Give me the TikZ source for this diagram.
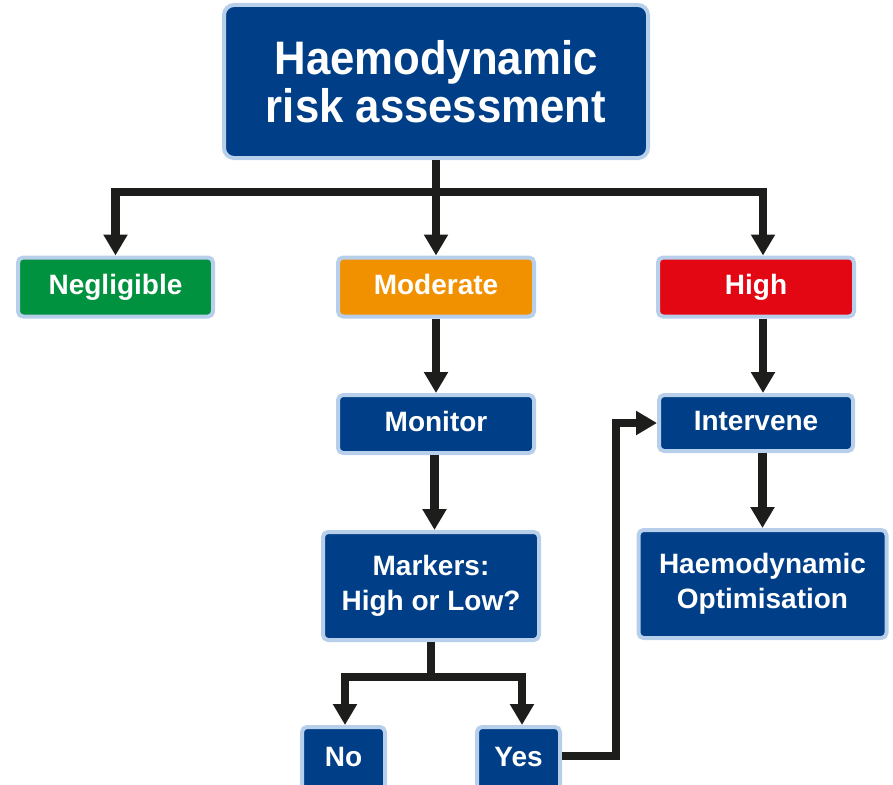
\documentclass[tikz,border=0pt]{standalone}
\usepackage{fontspec}
\setmainfont{Liberation Sans}
\newfontfamily\titlefam{Liberation Sans}[FakeStretch=0.93]
\usetikzlibrary{arrows.meta}
\definecolor{navy}{HTML}{003F87}
\definecolor{edgec}{HTML}{B8CFEC}
\definecolor{greenc}{HTML}{00923F}
\definecolor{orangec}{HTML}{F29100}
\definecolor{redc}{HTML}{E30613}
\definecolor{arrowc}{HTML}{1D1D1B}
\tikzset{
  box/.style={draw=edgec, line width=4pt, rounded corners=5pt, fill=navy, text=white,
    font=\bfseries\fontsize{28}{35}\selectfont, align=center, inner sep=0pt},
  onebox/.style={box, text height=20pt, text depth=6pt},
  wire/.style={line width=8.5pt, draw=arrowc},
  conn/.style={wire, -{Triangle[width=23pt,length=21pt]}},
}
\begin{document}
\begin{tikzpicture}[x=1pt,y=-1pt]
\useasboundingbox (0,0) rectangle (893,784);
\clip (0,0) rectangle (893,784);
% nodes
\node[box, rounded corners=10pt, minimum width=424pt, minimum height=153pt,
  font=\titlefam\bfseries\fontsize{47}{48}\selectfont] (top) at (436,81.5)
  {Haemodynamic\\risk assessment};
\node[onebox, fill=greenc, minimum width=195pt, minimum height=59pt] (neg) at (115.5,287) {Negligible};
\node[onebox, fill=orangec, minimum width=196pt, minimum height=59pt] (mod) at (436,287) {Moderate};
\node[onebox, fill=redc, minimum width=196pt, minimum height=59pt] (high) at (756,287) {High};
\node[onebox, minimum width=196pt, minimum height=58pt] (mon) at (436,424) {Monitor};
\node[box, minimum width=216pt, minimum height=108pt] (mark) at (431,586) {Markers:\\High or Low?};
\node[onebox, minimum width=194pt, minimum height=56pt] (int) at (756,423) {Intervene};
\node[box, minimum width=248pt, minimum height=108pt] (ho) at (762.5,584) {Haemodynamic\\Optimisation};
\node[onebox, minimum width=83pt, minimum height=65pt] (no) at (343.5,759.5) {No};
\node[onebox, minimum width=83pt, minimum height=65pt] (yes) at (518.5,759.5) {Yes};
% connectors
\coordinate (j1) at (436,192);
\draw[wire] (top.south) -- (j1);
\draw[conn] (j1) -| (neg.north);
\draw[conn] (j1) -- (mod.north);
\draw[conn] (j1) -| ([xshift=7pt]high.north);
\draw[conn] (mod.south) -- (mon.north);
\draw[conn] ([xshift=-1.5pt]mon.south) -- ([xshift=-1.5pt]mon.south |- mark.north);
\coordinate (j2) at ([yshift=-35pt]mark.south);
\draw[wire] (mark.south) -- (j2);
\draw[conn] (j2) -| ([xshift=1.5pt]no.north);
\draw[conn] (j2) -| ([xshift=3.5pt]yes.north);
\draw[conn] ([xshift=7pt]high.south) -- ([xshift=7pt]int.north);
\draw[conn] ([xshift=6.5pt]int.south) -- (ho.north);
\draw[conn] ([yshift=3.5pt]yes.east) -- ++(54,0) |- (int.west);
\end{tikzpicture}
\end{document}
